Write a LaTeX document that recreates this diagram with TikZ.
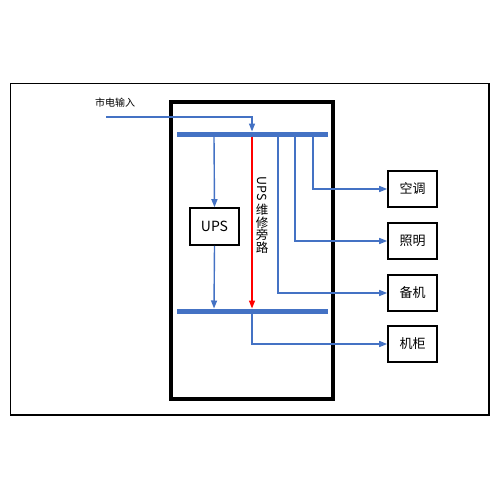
\documentclass[tikz,border=0pt]{standalone}
\usepackage{fontspec}
\setmainfont{Noto Sans CJK SC}
\usetikzlibrary{arrows.meta}
\definecolor{lineblue}{HTML}{4472C4}
\tikzset{
  wire/.style={draw=lineblue, line width=1.4pt},
  arr/.style={wire, -{Triangle[length=8pt,width=6pt]}},
  bus/.style={draw=lineblue, line width=5pt},
  loadbox/.style={draw=black, line width=1.6pt, minimum width=49pt, minimum height=36pt, inner sep=0pt, font=\fontsize{13}{13}\selectfont},
}
\begin{document}
\begin{tikzpicture}[x=1pt,y=-1pt]
\useasboundingbox (0,0) rectangle (500,500);
% outer frame
\draw[line width=1.5pt, black] (10.5,83.5) rectangle (489,415);
% inner cabinet
\draw[line width=4pt, black] (171,102) rectangle (333,399);
% buses
\coordinate (t1) at (177,134);
\coordinate (t2) at (328,134);
\coordinate (b1) at (177,311);
\coordinate (b2) at (328,311);
\draw[bus] (t1) -- (t2);
\draw[bus] (b1) -- (b2);
% input
\node (inlbl) at (115,103) {\fontsize{10}{10}\selectfont 市电输入};
\coordinate (in0) at (106,117);
\coordinate (inT) at (252,131.5);
\draw[arr] (in0) -| (inT);
% UPS
\node[loadbox, minimum width=49pt, minimum height=37pt, font=\fontsize{14}{14}\selectfont] (ups) at (214.5,226.5) {UPS};
\coordinate (upsT) at (214,136.5);
\coordinate (upsB) at (214,308.5);
\draw[arr] (upsT) -- (ups.north);
\draw[arr] (ups.south) -- (upsB);
% bypass
\coordinate (byT) at (252,136.5);
\coordinate (byB) at (252,308.5);
\draw[draw=red, line width=1.4pt, -{Triangle[length=8pt,width=6pt]}, fill=red] (byT) -- (byB);
\node[inner sep=0pt, align=center, font=\fontsize{12.5}{12.5}\selectfont] (bylbl) at (262,215) {\rotatebox[origin=c]{-90}{UPS}\\[2pt]维\\修\\旁\\路};
% loads
\node[loadbox] (kt) at (412.5,189) {空调};
\node[loadbox] (zm) at (412.5,241) {照明};
\node[loadbox] (bj) at (412.5,293) {备机};
\node[loadbox] (jg) at (412.5,344) {机柜};
\coordinate (s1) at (313,136.5);
\coordinate (s2) at (295,136.5);
\coordinate (s3) at (278,136.5);
\coordinate (s4) at (252,313.5);
\draw[arr] (s1) |- (kt.west);
\draw[arr] (s2) |- (zm.west);
\draw[arr] (s3) |- (bj.west);
\draw[arr] (s4) |- (jg.west);
\end{tikzpicture}
\end{document}
